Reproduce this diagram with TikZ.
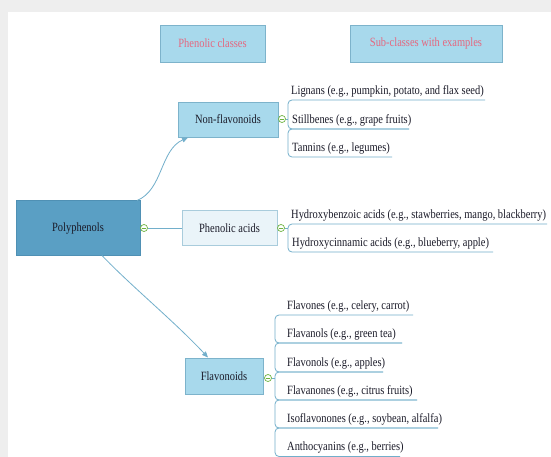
\documentclass[tikz,border=0pt]{standalone}
\usepackage{fontspec}
\setmainfont{Liberation Serif}[FakeStretch=0.83]
\usetikzlibrary{arrows.meta}
\definecolor{framegray}{HTML}{EEEEEE}
\definecolor{polyfill}{HTML}{5A9FC4}
\definecolor{polydraw}{HTML}{4F90B4}
\definecolor{boxfill}{HTML}{A8D9EC}
\definecolor{boxdraw}{HTML}{7DB3CB}
\definecolor{pafill}{HTML}{EAF4F9}
\definecolor{padraw}{HTML}{A9CCDC}
\definecolor{headtext}{HTML}{E5677F}
\definecolor{textdark}{HTML}{1A1A28}
\definecolor{ulblue}{HTML}{72AFCB}
\definecolor{minusgreen}{HTML}{6DB33F}
\begin{document}
\begin{tikzpicture}[x=1pt,y=-1pt,
  every node/.style={font=\fontsize{12.6}{14}\selectfont, text=textdark},
  mainbox/.style={draw=polydraw, fill=polyfill, line width=0.6pt, inner sep=0pt},
  classbox/.style={draw=boxdraw, fill=boxfill, line width=0.8pt, inner sep=0pt},
  pabox/.style={draw=padraw, fill=pafill, line width=0.8pt, inner sep=0pt},
  headbox/.style={draw=boxdraw, fill=boxfill, line width=0.8pt, inner sep=0pt, text=headtext},
  leaf/.style={anchor=base west, inner sep=0pt},
  conn/.style={draw=ulblue, line width=0.8pt},
  bracket/.style={draw=ulblue, line width=0.8pt, rounded corners=4pt},
  arrowconn/.style={draw=ulblue, line width=0.8pt, -{Triangle[length=6pt,width=5pt]}},
  minusknob/.style={circle, draw=minusgreen, fill=white, line width=0.7pt, minimum size=7pt, inner sep=0pt,
    path picture={\draw[minusgreen, line width=0.7pt] ([xshift=-2.2pt]path picture bounding box.center) -- ([xshift=2.2pt]path picture bounding box.center);}}
]
\useasboundingbox (0,0) rectangle (551,457);
\fill[framegray] (0,0) rectangle (551,457);
\fill[white] (8,12) rectangle (551,457);

% headers
\node[headbox, minimum width=105pt, minimum height=37pt] (h1) at (212.5,43.5) {Phenolic classes};
\node[headbox, minimum width=152pt, minimum height=37pt] (h2) at (426,43.5) {Sub-classes with examples};

% main boxes
\node[mainbox, minimum width=124pt, minimum height=55pt] (poly) at (78,228) {Polyphenols};
\node[classbox, minimum width=100pt, minimum height=35pt] (nf) at (228,119.5) {Non-flavonoids};
\node[pabox, minimum width=95pt, minimum height=35pt] (pa) at (229.5,228) {Phenolic acids};
\node[classbox, minimum width=78pt, minimum height=36pt] (fl) at (224,376) {Flavonoids};

% connectors between classes
\node[minusknob] (k0) at (144,228) {};
\draw[conn] (k0) -- (pa.west);
\coordinate (p1) at (137,200.5);
\coordinate (p2) at (102,255.5);
\coordinate (nftip) at (188,137.5);
\coordinate (fltip) at (208,357.5);
\draw[arrowconn] (p1) .. controls (163,190) and (160,150) .. (nftip);
\draw[arrowconn] (p2) .. controls (130,285) and (175,322) .. (fltip);

% Non-flavonoids leaves
\node[leaf] (nf1) at (291,95) {Lignans (e.g., pumpkin, potato, and flax seed)};
\node[leaf] (nf2) at (292,123.5) {Stillbenes (e.g., grape fruits)};
\node[leaf] (nf3) at (292,151.5) {Tannins (e.g., legumes)};
\node[minusknob] (k1) at (282,119) {};
\coordinate (b1) at (288,119);
\draw[conn] (k1) -- (b1);
\draw[bracket] (485,100) -- (288,100) -- (288,129) -- (409,129);
\draw[bracket] (409,129) -- (288,129) -- (288,157) -- (392,157);

% Phenolic acids leaves
\node[leaf] (pa1) at (291,218) {Hydroxybenzoic acids (e.g., stawberries, mango, blackberry)};
\node[leaf] (pa2) at (292,246.5) {Hydroxycinnamic acids (e.g., blueberry, apple)};
\node[minusknob] (k2) at (281,228) {};
\coordinate (b2) at (288,228);
\draw[conn] (k2) -- (b2);
\draw[bracket] (547,224) -- (288,224) -- (288,252) -- (493,252);

% Flavonoids leaves
\node[leaf] (f1) at (287,309.5) {Flavones (e.g., celery, carrot)};
\node[leaf] (f2) at (287,337.5) {Flavanols (e.g., green tea)};
\node[leaf] (f3) at (287,366) {Flavonols (e.g., apples)};
\node[leaf] (f4) at (287,394) {Flavanones (e.g., citrus fruits)};
\node[leaf] (f5) at (287,422) {Isoflavonones (e.g., soybean, alfalfa)};
\node[leaf] (f6) at (287,450.5) {Anthocyanins (e.g., berries)};
\node[minusknob] (k3) at (268,378) {};
\coordinate (b3) at (275,378);
\draw[conn] (k3) -- (b3);
\draw[bracket] (413,315) -- (275,315) -- (275,343) -- (402,343);
\draw[bracket] (402,343) -- (275,343) -- (275,372) -- (383,372);
\draw[bracket] (383,372) -- (275,372) -- (275,400) -- (417,400);
\draw[bracket] (417,400) -- (275,400) -- (275,428) -- (438,428);
\draw[bracket] (438,428) -- (275,428) -- (275,456.5) -- (400,456.5);
\end{tikzpicture}
\end{document}
